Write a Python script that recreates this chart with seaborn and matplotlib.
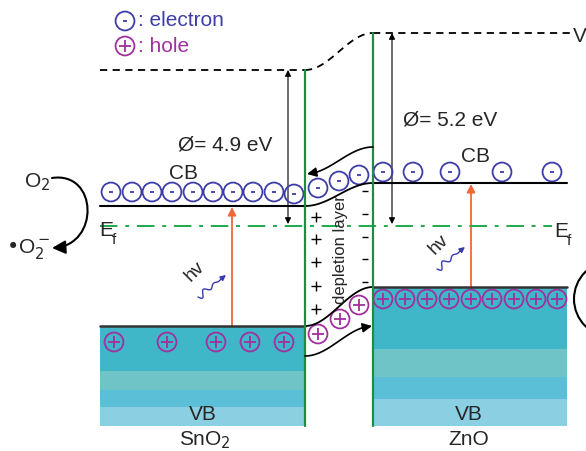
import numpy as np
import matplotlib
matplotlib.use("Agg")
import matplotlib.pyplot as plt
from matplotlib.patches import FancyArrowPatch, Rectangle
from matplotlib.path import Path
import seaborn as sns

# ---- data (pixel layout of the band diagram) ----
# electrons in the conduction band
elec_x = [111, 132, 152, 172, 193, 213, 233, 253, 274, 294, 318, 339, 359,
          383, 413, 450, 502, 552]
elec_y = [193, 193, 193, 193, 193, 193, 193, 193, 193, 195, 189, 182, 176,
          173, 173, 173, 173, 173]
# holes in the valence band
hole_x = [114, 167, 216, 250, 284, 318, 340, 359,
          383, 405, 427, 449, 471, 492, 514, 536, 557]
hole_y = [343, 343, 343, 343, 343, 335, 320, 306,
          300, 300, 300, 300, 300, 300, 300, 300, 300]
# fixed charges in the depletion layer
plus_y = [218, 240, 263, 287, 310]
minus_y = [192, 215, 238, 260, 283]
# band edges / levels
vac_left, vac_right = 71, 34
cb_left, cb_right = 207, 184
vb_left, vb_right = 327, 288
ef_level = 227
band_bottom = 427
# valence band shading (band boundaries, colours)
vb_left_edges = [327, 372, 391, 408, 427]
vb_right_edges = [288, 350, 378, 400, 427]
vb_colors = ["#40b6c9", "#6fc4c8", "#5cbfd8", "#8ad0e2"]

blue = "#3d3da8"
purple = "#a0309e"
green = "#1e8c45"
orange = "#f0683a"

sns.set_theme(style="white")
plt.rcParams['font.family'] = ['Liberation Sans', 'DejaVu Sans']

fig = plt.figure(figsize=(5.86, 4.52), dpi=100)
ax = fig.add_axes([0, 0, 1, 1])
ax.set_xlim(0, 586)
ax.set_ylim(452, 0)
ax.axis("off")

x1, x2 = 305, 373  # junction edges
fs = 15


def smooth(ya, yb, n=60):
    t = np.linspace(0, 1, n)
    s = 0.5 - 0.5 * np.cos(np.pi * t)
    return x1 + (x2 - x1) * t, ya + (yb - ya) * s


# valence band blocks
for i, c in enumerate(vb_colors):
    ax.add_patch(Rectangle((100, vb_left_edges[i]), x1 - 100,
                           vb_left_edges[i + 1] - vb_left_edges[i], color=c, lw=0))
    ax.add_patch(Rectangle((x2, vb_right_edges[i]), 567 - x2,
                           vb_right_edges[i + 1] - vb_right_edges[i], color=c, lw=0))

# vacuum level
xs, ys = smooth(vac_left, vac_right)
ax.plot([100, x1], [vac_left, vac_left], ls=(0, (4, 3)), color="black", lw=1.3)
ax.plot(xs, ys, ls=(0, (4, 3)), color="black", lw=1.3)
ax.plot([x2, 570], [vac_right, vac_right], ls=(0, (4, 3)), color="black", lw=1.3)
ax.text(573, 36, "V", fontsize=fs, va="center", ha="left")

# conduction band
xs, ys = smooth(cb_left, cb_right)
ax.plot([100, x1], [cb_left, cb_left], color="black", lw=1.5)
ax.plot(xs, ys, color="black", lw=1.3)
ax.plot([x2, 567], [cb_right, cb_right], color="black", lw=1.5)
# valence band top
xs, ys = smooth(vb_left, vb_right)
ax.plot([100, x1], [vb_left, vb_left], color="#333333", lw=1.8)
ax.plot(xs, ys, color="black", lw=1.3)
ax.plot([x2, 567], [vb_right, vb_right], color="#333333", lw=1.8)

# Fermi level
ax.plot([100, 552], [ef_level, ef_level], color="#1faa4c", lw=1.4,
        ls=(0, (9, 4, 2, 4)))
ax.text(99, 231, "E", fontsize=fs, va="center")
ax.text(112, 240, "f", fontsize=11, va="center")
ax.text(554, 232, "E", fontsize=fs, va="center")
ax.text(567, 241, "f", fontsize=11, va="center")

# junction lines
ax.plot([x1, x1], [vac_left, band_bottom], color=green, lw=1.6)
ax.plot([x2, x2], [vac_right, band_bottom], color=green, lw=1.6)

# work function arrows
for xa, ytop, lab, tx, ty in [(288, vac_left, "Ø= 4.9 eV", 178, 145),
                              (392, vac_right, "Ø= 5.2 eV", 403, 120)]:
    ax.add_patch(FancyArrowPatch((xa, ytop), (xa, ef_level - 2),
                                 arrowstyle="<|-|>", mutation_scale=9,
                                 color="black", lw=0.8, shrinkA=0, shrinkB=0))
    ax.text(tx, ty, lab, fontsize=fs, va="center", ha="left")

# curved flow arrows in the depletion layer
xs, ys = smooth(175, 148)
ax.plot(xs[8:], ys[8:], color="black", lw=1.2)
ax.add_patch(FancyArrowPatch((xs[10], ys[10]), (x1 + 2, 175), arrowstyle="-|>",
                             mutation_scale=14, color="black", lw=1.2,
                             shrinkA=0, shrinkB=0))
xs, ys = smooth(357, 327)
ax.plot(xs[:-8], ys[:-8], color="black", lw=1.2)
ax.add_patch(FancyArrowPatch((xs[-10], ys[-10]), (x2 - 1, 327), arrowstyle="-|>",
                             mutation_scale=14, color="black", lw=1.2,
                             shrinkA=0, shrinkB=0))

# photoexcitation arrows
for xa, yb, yt in [(232, vb_left, cb_left + 1), (471, vb_right, cb_right + 1)]:
    ax.add_patch(FancyArrowPatch((xa, yb), (xa, yt), arrowstyle="-|>",
                                 mutation_scale=12, color=orange, lw=1.3,
                                 shrinkA=0, shrinkB=0))

# h-nu wavy arrows
for (sx, sy), (tx, ty) in [((198, 298), ((195, 272))), ((437, 270), (439, 245))]:
    ex, ey = sx + 28, sy - 22
    t = np.linspace(0, 1, 80)
    d = np.array([ex - sx, ey - sy])
    L = np.hypot(*d)
    u = d / L
    p = np.array([-u[1], u[0]])
    amp = 4 * (1 - t)
    wx = sx + d[0] * t * 0.85 + p[0] * amp * np.sin(2 * np.pi * 2.5 * t)
    wy = sy + d[1] * t * 0.85 + p[1] * amp * np.sin(2 * np.pi * 2.5 * t)
    ax.plot(wx, wy, color="#3a3ab0", lw=1.0)
    ax.add_patch(FancyArrowPatch((wx[-1], wy[-1]), (ex, ey), arrowstyle="-|>",
                                 mutation_scale=8, color="#3a3ab0", lw=1.0,
                                 shrinkA=0, shrinkB=0))
    ax.text(tx, ty, "hv", fontsize=14, rotation=45, ha="center", va="center")

# carriers
csize = 185
sns.scatterplot(x=elec_x, y=elec_y, ax=ax, marker="o", s=csize,
                facecolor="none", edgecolor=blue, linewidth=1.3, legend=False)
sns.scatterplot(x=elec_x, y=elec_y, ax=ax, marker="_", s=12,
                color=blue, linewidth=1.3, legend=False)
sns.scatterplot(x=hole_x, y=hole_y, ax=ax, marker="o", s=csize,
                facecolor="none", edgecolor=purple, linewidth=1.3, legend=False)
sns.scatterplot(x=hole_x, y=hole_y, ax=ax, marker="+", s=70,
                color=purple, linewidth=1.3, legend=False)

# fixed charges
sns.scatterplot(x=[316] * len(plus_y), y=plus_y, ax=ax, marker="+", s=45,
                color="black", linewidth=1.0, legend=False)
sns.scatterplot(x=[365] * len(minus_y), y=minus_y, ax=ax, marker="_", s=16,
                color="black", linewidth=1.0, legend=False)
ax.text(341, 250, "depletion layer", rotation=90, fontsize=12,
        ha="center", va="center")

# legend
sns.scatterplot(x=[125, 125], y=[22, 47], ax=ax, marker="o", s=csize,
                facecolor="none", edgecolor=[blue, purple], linewidth=1.3,
                legend=False)
ax.scatter([125], [22], marker="_", s=12, color=blue, linewidth=1.3)
ax.scatter([125], [47], marker="+", s=70, color=purple, linewidth=1.3)
ax.text(138, 21, ": electron", fontsize=fs, color=blue, va="center")
ax.text(138, 46, ": hole", fontsize=fs, color=purple, va="center")

# labels
ax.text(183, 174, "CB", fontsize=fs, ha="center", va="center")
ax.text(476, 157, "CB", fontsize=fs, ha="center", va="center")
ax.text(203, 415, "VB", fontsize=fs, ha="center", va="center")
ax.text(469, 415, "VB", fontsize=fs, ha="center", va="center")
ax.text(205, 440, "SnO$_2$", fontsize=fs, ha="center", va="center")
ax.text(469, 440, "ZnO", fontsize=fs, ha="center", va="center")

# oxygen reduction
ax.text(37, 182, "O$_2$", fontsize=fs, ha="center", va="center")
ax.text(28, 249, "•O$_2^-$", fontsize=fs, ha="center", va="center")
o2_path = Path([(52, 179), (98, 172), (100, 246), (52, 249)],
               [Path.MOVETO, Path.CURVE4, Path.CURVE4, Path.CURVE4])
ax.add_patch(FancyArrowPatch(path=o2_path, arrowstyle="-|>",
                             mutation_scale=20, color="black", lw=1.5))
ax.add_patch(plt.Circle((612, 300), 38, fill=False, color="black", lw=1.5))

plt.savefig("out.png", dpi=100)
